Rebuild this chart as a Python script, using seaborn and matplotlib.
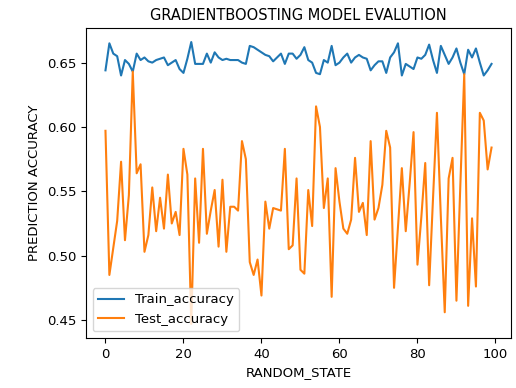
import matplotlib
matplotlib.use("Agg")
import matplotlib.pyplot as plt
import seaborn as sns
import pandas as pd

# random_state values 0..99
RANDOM_STATE = list(range(100))

TRAIN_ACC = [
    0.644, 0.665, 0.657, 0.655, 0.640, 0.652, 0.649, 0.643, 0.657, 0.652,
    0.654, 0.651, 0.650, 0.652, 0.653, 0.654, 0.648, 0.650, 0.652, 0.645,
    0.642, 0.653, 0.666, 0.649, 0.649, 0.649, 0.657, 0.650, 0.658, 0.654,
    0.652, 0.653, 0.652, 0.652, 0.652, 0.650, 0.649, 0.663, 0.662, 0.660,
    0.658, 0.656, 0.655, 0.651, 0.654, 0.657, 0.649, 0.657, 0.657, 0.653,
    0.656, 0.662, 0.652, 0.650, 0.642, 0.641, 0.652, 0.650, 0.663, 0.648,
    0.650, 0.654, 0.657, 0.650, 0.654, 0.656, 0.654, 0.653, 0.644, 0.648,
    0.651, 0.651, 0.642, 0.654, 0.658, 0.665, 0.640, 0.649, 0.647, 0.645,
    0.654, 0.653, 0.656, 0.664, 0.652, 0.642, 0.663, 0.656, 0.649, 0.654,
    0.661, 0.650, 0.641, 0.660, 0.654, 0.661, 0.650, 0.640, 0.644, 0.649,
]

TEST_ACC = [
    0.597, 0.485, 0.506, 0.527, 0.573, 0.512, 0.547, 0.643, 0.564, 0.571,
    0.503, 0.516, 0.553, 0.519, 0.545, 0.521, 0.563, 0.525, 0.534, 0.516,
    0.583, 0.563, 0.447, 0.560, 0.510, 0.583, 0.517, 0.535, 0.551, 0.507,
    0.559, 0.503, 0.538, 0.538, 0.535, 0.589, 0.575, 0.495, 0.485, 0.497,
    0.469, 0.542, 0.521, 0.537, 0.536, 0.535, 0.583, 0.505, 0.508, 0.560,
    0.489, 0.486, 0.551, 0.523, 0.616, 0.600, 0.537, 0.560, 0.468, 0.568,
    0.542, 0.521, 0.517, 0.528, 0.576, 0.534, 0.541, 0.516, 0.589, 0.528,
    0.537, 0.555, 0.597, 0.584, 0.475, 0.522, 0.568, 0.519, 0.556, 0.596,
    0.493, 0.530, 0.572, 0.477, 0.545, 0.611, 0.530, 0.456, 0.560, 0.576,
    0.465, 0.555, 0.641, 0.461, 0.529, 0.476, 0.611, 0.605, 0.567, 0.584,
]

df = pd.DataFrame({
    "random_state": RANDOM_STATE,
    "Train_accuracy": TRAIN_ACC,
    "Test_accuracy": TEST_ACC,
})

fig = plt.figure(figsize=(5.16, 3.88), dpi=100)
ax = fig.add_axes([0.167, 0.129, 0.823, 0.799])

sns.lineplot(data=df, x="random_state", y="Train_accuracy", ax=ax,
             color="#1f77b4", linewidth=1.5, label="Train_accuracy")
sns.lineplot(data=df, x="random_state", y="Test_accuracy", ax=ax,
             color="#ff7f0e", linewidth=1.5, label="Test_accuracy")

ax.set_title("GRADIENTBOOSTING MODEL EVALUTION", fontsize=10.5)
ax.set_xlabel("RANDOM_STATE", fontsize=9.5)
ax.set_ylabel("PREDICTION ACCURACY", fontsize=9.5)
ax.tick_params(labelsize=9.5)
ax.legend(loc="lower left", fontsize=9.5)

fig.savefig("out.png", dpi=100)
